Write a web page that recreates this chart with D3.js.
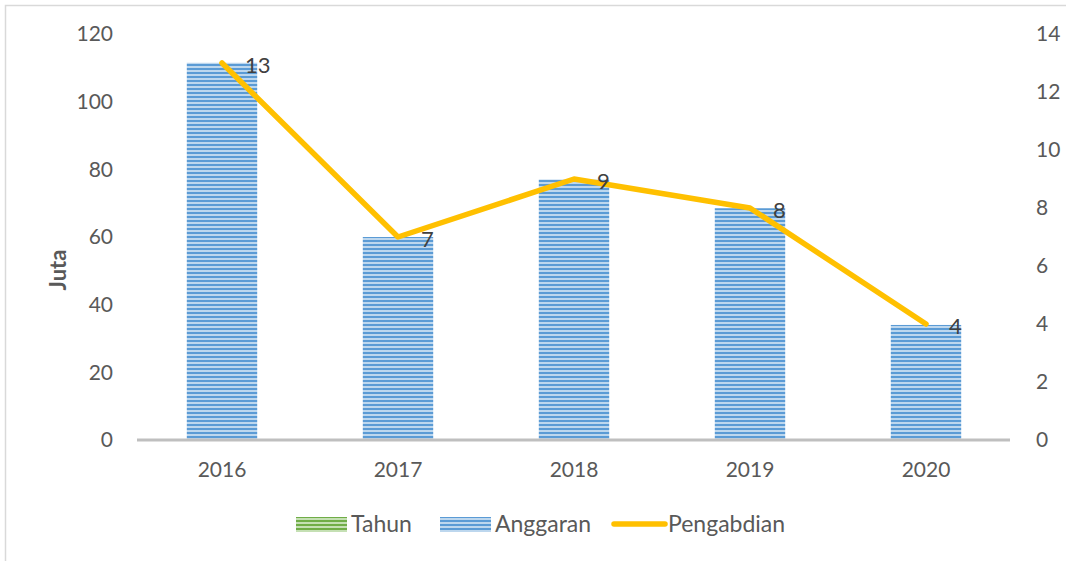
<!DOCTYPE html>
<html>
<head>
<meta charset="utf-8">
<script src="https://cdn.jsdelivr.net/npm/d3@7"></script>
<style>
  body { margin: 0; background: #fff; }
  text { font-family: Lato, "Noto Sans", sans-serif; }
</style>
</head>
<body>
<div id="chart"></div>
<script>
var years = ["2016", "2017", "2018", "2019", "2020"];
var anggaran = [111.5, 60, 77, 68.5, 34];   // juta
var pengabdian = [13, 7, 9, 8, 4];
var leftTicks = [0, 20, 40, 60, 80, 100, 120];
var rightTicks = [0, 2, 4, 6, 8, 10, 12, 14];

function barChart() {
    var w = 1066, h = 561;
    var left = 134, right = 1014, top = 34, bottom = 440;
    var fs = 21;

    var svg = d3.select("#chart").append("svg")
        .attr("width", w).attr("height", h);

    // stripe patterns for bars / legend
    var defs = svg.append("defs");
    function stripes(id, dark, light) {
        var p = defs.append("pattern").attr("id", id)
            .attr("patternUnits", "userSpaceOnUse")
            .attr("width", 8).attr("height", 4);
        p.append("rect").attr("width", 8).attr("height", 4).attr("fill", light);
        p.append("rect").attr("width", 8).attr("height", 2).attr("fill", dark);
    }
    stripes("blueStripe", "#5b9bd5", "#bdd7ee");
    stripes("greenStripe", "#70ad47", "#c5e0b4");

    // chart border
    svg.append("rect")
        .attr("x", 5.5).attr("y", 5.5)
        .attr("width", 1070).attr("height", 570)
        .attr("fill", "none").attr("stroke", "#d9d9d9").attr("stroke-width", 1.5);

    var xScale = d3.scaleBand()
        .domain(years)
        .range([left, right])
        .paddingInner(0.6)
        .paddingOuter(0.3);

    var yLeft = d3.scaleLinear().domain([0, 120]).range([bottom, top]);
    var yRight = d3.scaleLinear().domain([0, 14]).range([bottom, top]);

    // bars
    svg.selectAll("rect.bar")
        .data(anggaran)
        .enter()
        .append("rect")
        .attr("class", "bar")
        .attr("x", function(d, i) { return xScale(years[i]); })
        .attr("y", function(d) { return yLeft(d); })
        .attr("width", xScale.bandwidth())
        .attr("height", function(d) { return bottom - yLeft(d); })
        .attr("fill", "url(#blueStripe)");

    // x axis
    var xAxis = d3.axisBottom(xScale).tickSize(0).tickPadding(22);
    var gx = svg.append("g")
        .attr("transform", "translate(0," + bottom + ")")
        .call(xAxis);
    gx.select(".domain").attr("stroke", "#bfbfbf").attr("stroke-width", 3)
        .attr("d", "M" + (left + 3) + ",0H" + (right - 4));
    gx.selectAll("text").attr("font-size", fs).attr("fill", "#595959");

    // left axis
    var yAxisL = d3.axisLeft(yLeft).tickValues(leftTicks).tickSize(0).tickPadding(0);
    var gl = svg.append("g")
        .attr("transform", "translate(113,0)")
        .call(yAxisL);
    gl.select(".domain").remove();
    gl.selectAll("text").attr("font-size", fs).attr("fill", "#595959");

    // right axis
    var yAxisR = d3.axisRight(yRight).tickValues(rightTicks).tickSize(0).tickPadding(0);
    var gr = svg.append("g")
        .attr("transform", "translate(1036,0)")
        .call(yAxisR);
    gr.select(".domain").remove();
    gr.selectAll("text").attr("font-size", fs).attr("fill", "#595959");

    // axis title
    svg.append("text")
        .attr("transform", "translate(66," + ((top + bottom) / 2 + 33) + ") rotate(-90)")
        .attr("text-anchor", "middle")
        .attr("font-size", 22).attr("font-weight", "bold").attr("fill", "#595959")
        .text("Juta");

    // line
    var line = d3.line()
        .x(function(d, i) { return xScale(years[i]) + xScale.bandwidth() / 2; })
        .y(function(d) { return yRight(d); });

    svg.append("path")
        .datum(pengabdian)
        .attr("d", line)
        .attr("fill", "none")
        .attr("stroke", "#ffc000")
        .attr("stroke-width", 5.5)
        .attr("stroke-linejoin", "round")
        .attr("stroke-linecap", "round");

    // data labels
    svg.selectAll("text.lbl")
        .data(pengabdian)
        .enter()
        .append("text")
        .attr("class", "lbl")
        .attr("x", function(d, i) { return xScale(years[i]) + xScale.bandwidth() / 2 + 23; })
        .attr("y", function(d) { return yRight(d) + 10; })
        .attr("font-size", 22).attr("fill", "#404040")
        .text(function(d) { return d; });

    // legend
    var lfs = 23;
    var leg = svg.append("g").attr("transform", "translate(0,524)");
    leg.append("rect").attr("x", 296).attr("y", -7).attr("width", 51).attr("height", 15)
        .attr("fill", "url(#greenStripe)");
    leg.append("text").attr("x", 351).attr("y", 8).attr("font-size", lfs).attr("fill", "#595959").text("Tahun");
    leg.append("rect").attr("x", 440).attr("y", -7).attr("width", 51).attr("height", 15)
        .attr("fill", "url(#blueStripe)");
    leg.append("text").attr("x", 495).attr("y", 8).attr("font-size", lfs).attr("fill", "#595959").text("Anggaran");
    leg.append("line").attr("x1", 614).attr("x2", 665).attr("y1", 0).attr("y2", 0)
        .attr("stroke", "#ffc000").attr("stroke-width", 5.5).attr("stroke-linecap", "round");
    leg.append("text").attr("x", 668).attr("y", 8).attr("font-size", lfs).attr("fill", "#595959").text("Pengabdian");
}

window.onload = barChart;
</script>
</body>
</html>
